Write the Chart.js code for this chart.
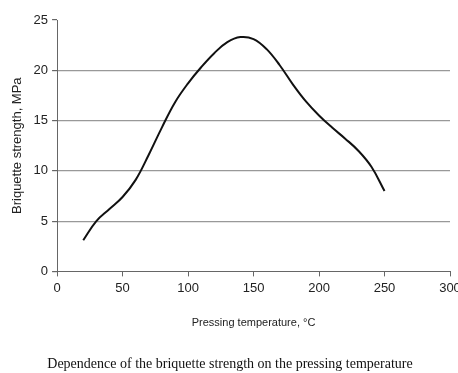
<!DOCTYPE html>
<html>
<head>
<meta charset="utf-8">
<script src="https://cdn.jsdelivr.net/npm/chart.js@4/dist/chart.umd.min.js"></script>
<style>
  html, body { margin: 0; padding: 0; background: #fff; }
  #wrap { width: 458px; height: 373px; position: relative; }
</style>
</head>
<body>
<div id="wrap"><canvas id="chart"></canvas></div>
<script>
// pressing temperature, °C
const temps = [20, 30, 40, 50, 60, 70, 80, 90, 100, 110, 120, 130, 140, 150, 160, 170, 180, 190, 200, 210, 220, 230, 240, 250];
// briquette strength, MPa
const strength = [3.1, 5.0, 6.2, 7.4, 9.1, 11.6, 14.3, 16.8, 18.7, 20.3, 21.7, 22.8, 23.3, 23.1, 22.1, 20.5, 18.6, 16.9, 15.5, 14.3, 13.2, 12.0, 10.4, 8.0];
const xTicks = [0, 50, 100, 150, 200, 250, 300];
const yTicks = [0, 5, 10, 15, 20, 25];

const points = temps.map((t, i) => ({ x: t, y: strength[i] }));

new Chart(document.getElementById('chart').getContext('2d'), {
    type: 'line',
    data: {
        datasets: [{
            data: points,
            borderColor: '#111',
            borderWidth: 2,
            pointRadius: 0,
            tension: 0.4,
            fill: false
        }]
    },
    options: {
        responsive: true,
        maintainAspectRatio: false,
        animation: false,
        layout: { padding: { left: 10, right: 8, top: 20, bottom: 0 } },
        plugins: {
            legend: { display: false },
            tooltip: { enabled: false },
            title: {
                display: true,
                position: 'bottom',
                text: 'Dependence of the briquette strength on the pressing temperature',
                color: '#111',
                font: { family: '"Liberation Serif", serif', size: 14, weight: 'normal' },
                padding: { top: 27, bottom: 0 }
            }
        },
        scales: {
            x: {
                type: 'linear',
                min: 0,
                max: 300,
                afterBuildTicks: s => { s.ticks = xTicks.map(v => ({ value: v })); },
                afterFit: s => { s.paddingRight = 0; },
                ticks: {
                    color: '#222',
                    font: { family: '"Liberation Sans", Arial, sans-serif', size: 13 },
                    padding: 4
                },
                grid: { drawOnChartArea: false, drawTicks: true, tickLength: 5, tickColor: '#666' },
                border: { display: true, color: '#666', width: 1 },
                title: {
                    display: true,
                    text: 'Pressing temperature, °C',
                    color: '#222',
                    font: { family: '"Liberation Sans", Arial, sans-serif', size: 11 },
                    padding: { top: 16, bottom: 0 }
                }
            },
            y: {
                min: 0,
                max: 25,
                afterBuildTicks: s => { s.ticks = yTicks.map(v => ({ value: v })); },
                ticks: {
                    color: '#222',
                    font: { family: '"Liberation Sans", Arial, sans-serif', size: 13 },
                    padding: 4
                },
                grid: {
                    color: ctx => (ctx.tick && (ctx.tick.value === 25 || ctx.tick.value === 0)) ? 'rgba(0,0,0,0)' : '#999',
                    lineWidth: 1.2,
                    tickLength: 5,
                    tickColor: '#666'
                },
                border: { display: true, color: '#666', width: 1 },
                title: {
                    display: true,
                    text: 'Briquette strength, MPa',
                    color: '#222',
                    font: { family: '"Liberation Sans", Arial, sans-serif', size: 13 },
                    padding: { top: 0, bottom: 4 }
                }
            }
        }
    }
});
</script>
</body>
</html>
